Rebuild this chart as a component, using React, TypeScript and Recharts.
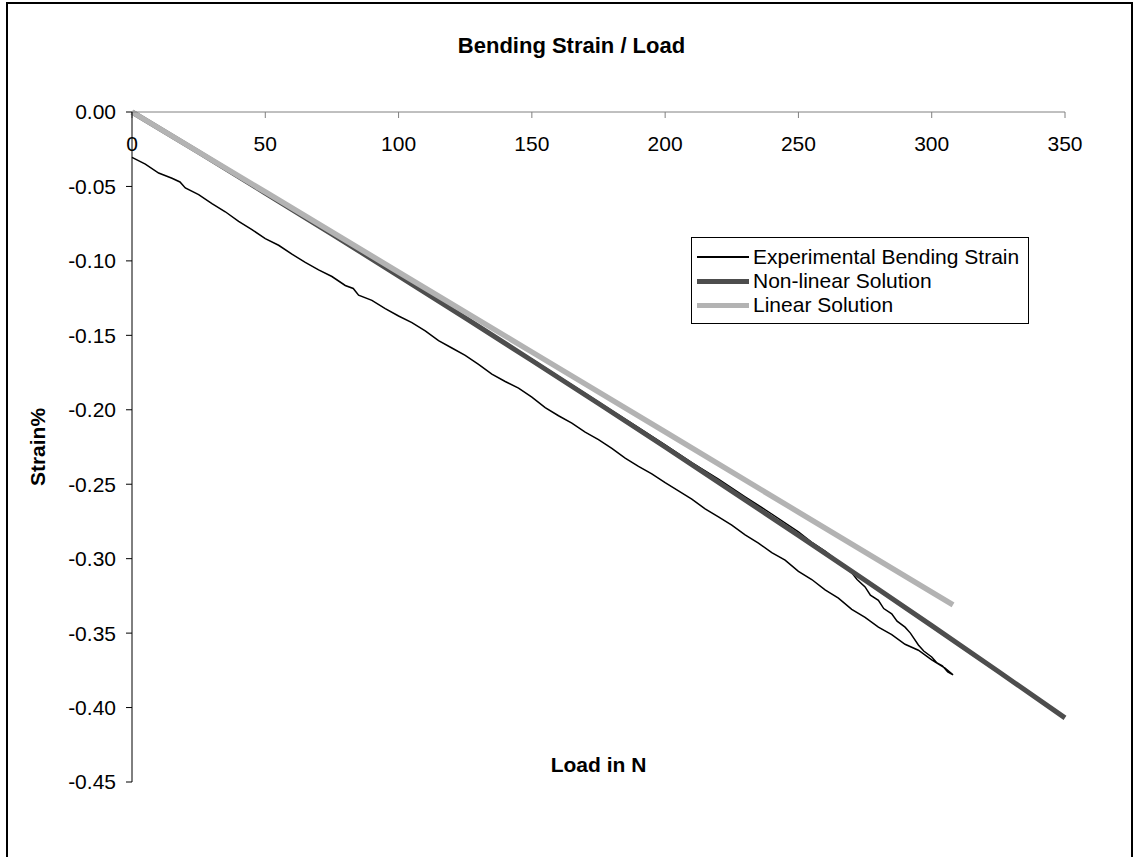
import React from "react";
import { LineChart, Line, XAxis, YAxis } from "recharts";

const FONT = "'Liberation Sans', Arial, sans-serif";

const loadTicks = [0, 50, 100, 150, 200, 250, 300, 350];
const strainTicks = [0, -0.05, -0.1, -0.15, -0.2, -0.25, -0.3, -0.35, -0.4, -0.45];

// experimental run: loading branch out to the peak, then the unloading branch back
const expLoad = [
  0, 5, 10, 15, 18, 20, 25, 30, 35, 40, 45, 50, 55, 60, 65, 70, 75, 80, 83, 85,
  90, 95, 100, 105, 110, 115, 120, 125, 130, 135, 140, 145, 150, 155, 160, 165,
  170, 175, 180, 185, 190, 195, 200, 205, 210, 215, 220, 225, 230, 235, 240, 245,
  250, 255, 260, 265, 270, 275, 280, 285, 290, 295, 300, 305, 308,
  306, 304, 302, 300, 297, 295, 292, 290, 287, 285, 282, 280, 277, 275, 272, 270,
  265, 260, 255, 250, 240, 230, 220, 210, 200, 190, 180, 170, 160, 150,
];
const expStrain = [
  -0.0305, -0.035, -0.041, -0.0445, -0.047, -0.051, -0.0555, -0.0615, -0.067,
  -0.0735, -0.079, -0.085, -0.0895, -0.0955, -0.101, -0.106, -0.1105, -0.1165,
  -0.1185, -0.123, -0.1265, -0.132, -0.137, -0.1415, -0.147, -0.1535, -0.1585,
  -0.1635, -0.1695, -0.176, -0.181, -0.1855, -0.1915, -0.1985, -0.204, -0.209,
  -0.215, -0.22, -0.226, -0.2325, -0.238, -0.243, -0.249, -0.2545, -0.26, -0.2665,
  -0.272, -0.2775, -0.284, -0.2895, -0.296, -0.301, -0.3085, -0.314, -0.321,
  -0.3265, -0.334, -0.3395, -0.346, -0.351, -0.3575, -0.3615, -0.368, -0.3735,
  -0.378,
  -0.376, -0.372, -0.37, -0.366, -0.362, -0.358, -0.35, -0.346, -0.342, -0.337,
  -0.3335, -0.328, -0.3245, -0.319, -0.314, -0.3095, -0.302, -0.295, -0.289,
  -0.282, -0.27, -0.2585, -0.2465, -0.2355, -0.2235, -0.212, -0.2005, -0.189,
  -0.1775, -0.166,
];

const nonLinLoad = [0, 25, 50, 75, 100, 125, 150, 175, 200, 225, 250, 275, 300, 325, 350];
const nonLinStrain = [
  0, -0.027, -0.0544, -0.082, -0.11, -0.1383, -0.1669, -0.1958, -0.225, -0.2546,
  -0.2844, -0.3145, -0.345, -0.3758, -0.4069,
];

const linLoad = [0, 50, 100, 150, 200, 250, 300, 308];
const linStrain = [0, -0.0537, -0.1075, -0.1612, -0.2149, -0.2687, -0.3224, -0.331];

const zip = (xs: number[], ys: number[]) => xs.map((x, i) => ({ load: x, strain: ys[i] }));

const expData = zip(expLoad, expStrain);
const nonLinData = zip(nonLinLoad, nonLinStrain);
const linData = zip(linLoad, linStrain);

const legendItems = [
  { name: "Experimental Bending Strain", color: "#000000", width: 1.5 },
  { name: "Non-linear Solution", color: "#4d4d4d", width: 5 },
  { name: "Linear Solution", color: "#b3b3b3", width: 5 },
];

function LegendBox() {
  return (
    <div
      style={{
        position: "absolute",
        left: 691,
        top: 237,
        width: 336,
        border: "1px solid #000",
        background: "#fff",
        padding: "7px 0 6px 0",
        fontFamily: FONT,
        fontSize: 21,
        color: "#000",
      }}
    >
      {legendItems.map((it) => (
        <div key={it.name} style={{ display: "flex", alignItems: "center", height: 24 }}>
          <div style={{ width: 52, marginLeft: 5, height: it.width, background: it.color }} />
          <span style={{ marginLeft: 4, whiteSpace: "nowrap" }}>{it.name}</span>
        </div>
      ))}
    </div>
  );
}

export default function App() {
  return (
    <div style={{ position: "absolute", left: 0, top: 0, width: 1135, height: 857, background: "#fff", overflow: "hidden" }}>
      <div
        style={{
          position: "absolute",
          left: 6,
          top: 2,
          width: 1123,
          height: 900,
          border: "2px solid #000",
        }}
      />
      <div
        style={{
          position: "absolute",
          left: 0,
          width: 1135,
          top: 33,
          textAlign: "center",
          fontFamily: FONT,
          fontWeight: "bold",
          fontSize: 22,
          paddingLeft: 4,
        }}
      >
        Bending Strain / Load
      </div>
      <div
        style={{
          position: "absolute",
          left: 132,
          width: 933,
          top: 753,
          textAlign: "center",
          fontFamily: FONT,
          fontWeight: "bold",
          fontSize: 21,
        }}
      >
        Load in N
      </div>
      <div
        style={{
          position: "absolute",
          left: 38,
          top: 447,
          transform: "translate(-50%, -50%) rotate(-90deg)",
          fontFamily: FONT,
          fontWeight: "bold",
          fontSize: 21,
          whiteSpace: "nowrap",
        }}
      >
        Strain%
      </div>
      <LineChart
        width={1135}
        height={857}
        margin={{ top: 112, right: 70, bottom: 75, left: 52 }}
        style={{ position: "absolute", left: 0, top: 0 }}
      >
        <XAxis
          type="number"
          dataKey="load"
          domain={[0, 350]}
          ticks={loadTicks}
          orientation="top"
          mirror
          allowDuplicatedCategory={false}
          stroke="#808080"
          tickSize={6}
          tickMargin={18}
          tick={{ fill: "#000", fontSize: 21, fontFamily: FONT }}
        />
        <YAxis
          type="number"
          dataKey="strain"
          domain={[-0.45, 0]}
          ticks={strainTicks}
          width={80}
          stroke="#000"
          tickSize={6}
          tickMargin={10}
          tickFormatter={(v: number) => v.toFixed(2)}
          tick={{ fill: "#000", fontSize: 21, fontFamily: FONT }}
        />
        <Line
          data={expData}
          dataKey="strain"
          name="Experimental Bending Strain"
          stroke="#000000"
          strokeWidth={1.5}
          dot={false}
          activeDot={false}
          isAnimationActive={false}
        />
        <Line
          data={nonLinData}
          dataKey="strain"
          name="Non-linear Solution"
          stroke="#4d4d4d"
          strokeWidth={5}
          dot={false}
          activeDot={false}
          isAnimationActive={false}
        />
        <Line
          data={linData}
          dataKey="strain"
          name="Linear Solution"
          stroke="#b3b3b3"
          strokeWidth={5.5}
          dot={false}
          activeDot={false}
          isAnimationActive={false}
        />
      </LineChart>
      <LegendBox />
    </div>
  );
}
